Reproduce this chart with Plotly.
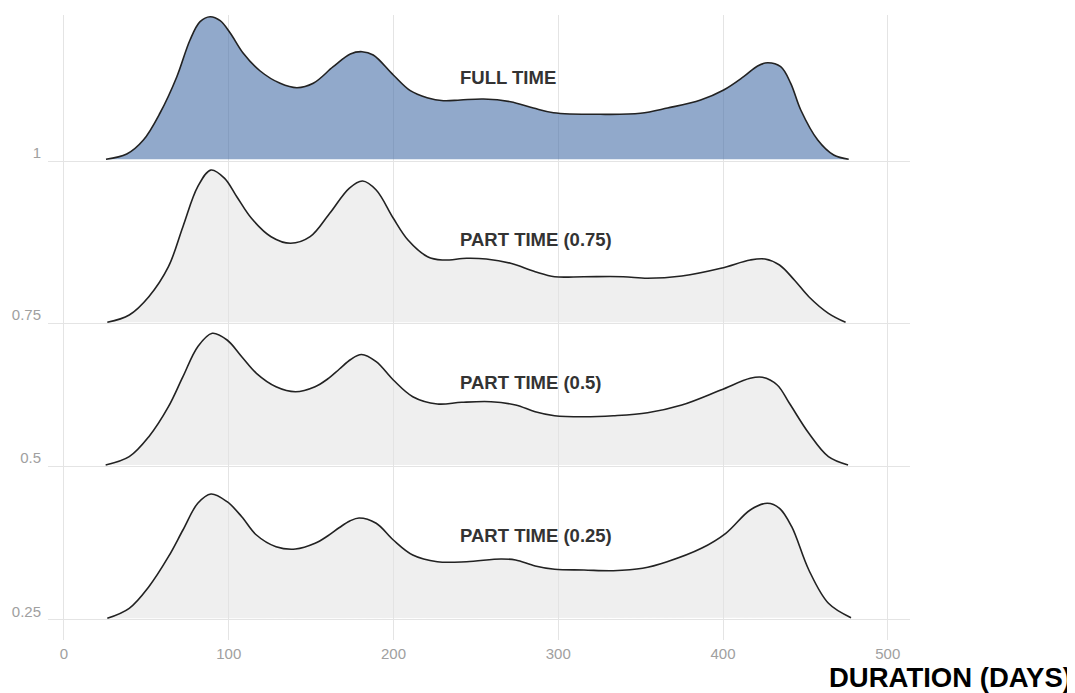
"""Ridgeline of duration (days) by working-time fraction"""

import plotly.graph_objects as go

# data: x = duration (days), y = density (scaled)
DAYS_FULL = [25.5, 38.1, 48.2, 58.3, 68.5, 76.5, 82.6, 88.7, 94.8, 100.9, 108.7, 119.1,
             131.2, 141.4, 151.3, 163.4, 173.8, 180.9, 187.7, 199.9, 210.2, 220.4, 230.3,
             240.6, 254.6, 271.0, 284.9, 297.1, 325.6, 349.9, 366.3, 386.4, 400.4, 412.5,
             421.0, 427.1, 435.0, 441.1, 447.2, 457.5, 467.2, 476.3]
DENS_FULL = [1.7, 7, 21, 48, 84.3, 121, 139.3, 144.3, 140.3, 128, 108, 90,
             77.7, 73.3, 77.7, 94.3, 107, 109.3, 106, 86, 70.3, 63.3, 60.3,
             61, 62, 59.3, 53, 48.3, 46.7, 47.7, 53, 61, 71, 84.3,
             95, 98.3, 94.3, 77.7, 51, 21, 6, 1.7]

DAYS_075 = [26.3, 39.6, 51.5, 63.4, 72.2, 81.2, 89.2, 97.5, 104.9, 113.8, 125.7, 137.5,
            149.4, 161.3, 173.1, 181.2, 189.5, 199.9, 208.8, 220.7, 229.6, 244.4, 256.3,
            271.1, 286.0, 297.8, 315.6, 339.4, 354.2, 375.0, 398.7, 416.5, 425.5, 434.3,
            443.3, 452.1, 464.0, 474.4]
DENS_075 = [0.7, 8, 26.3, 56.3, 96.3, 136.3, 153, 144.7, 126.3, 104.7, 86.3, 79.7,
            86.3, 109.7, 134.7, 142, 133, 104.7, 83, 66.3, 63, 64.7, 64,
            59.7, 51.3, 46.3, 46.3, 46.3, 44.7, 47, 54.7, 63, 64, 58,
            43, 26.3, 9.7, 0.7]

DAYS_050 = [25.3, 39.6, 51.5, 63.4, 72.2, 81.2, 90.0, 99.0, 107.9, 116.8, 128.7, 140.5,
            152.4, 160.0, 167.2, 174.0, 180.6, 189.5, 199.9, 211.7, 226.6, 241.4, 259.2,
            274.1, 286.0, 297.8, 315.6, 333.4, 354.2, 375.0, 398.7, 416.5, 423.9, 432.9,
            440.3, 452.1, 464.0, 475.9]
DENS_050 = [1, 9.3, 29.3, 59.3, 89.3, 119.3, 132.7, 126, 109.3, 92.7, 79.3, 74.3,
            79.3, 87, 97, 106.5, 111.5, 104.3, 86, 69.3, 62, 63.7, 64.3,
            61, 54.3, 50.3, 49.3, 50.3, 53.3, 61, 76, 87.7, 88.7, 81,
            62.7, 32.7, 9.3, 1]

DAYS_025 = [26.3, 39.6, 51.5, 63.4, 72.2, 81.2, 89.2, 99.0, 107.9, 116.8, 128.7, 140.5,
            152.4, 160.0, 167.2, 173.5, 179.1, 189.5, 199.9, 211.7, 226.6, 244.4, 265.2,
            274.1, 286.0, 297.8, 315.6, 333.4, 351.2, 366.1, 386.9, 401.7, 416.5, 426.9,
            434.3, 441.7, 452.1, 464.0, 477.7]
DENS_025 = [1.2, 11.2, 32.8, 62.8, 89.5, 116.2, 125.5, 117.8, 102.8, 84.5, 72.8, 70.5,
            76.2, 83.5, 92, 98.5, 101.5, 96.2, 79.5, 64.5, 57.8, 57.8, 60.5,
            59.5, 53.5, 50.2, 49.5, 48.8, 51.2, 57.8, 71.2, 86.2, 109.5, 116.2,
            111.2, 92.8, 49.5, 16.2, 1.8]

GROUP_NAMES = ["FULL TIME", "PART TIME (0.75)", "PART TIME (0.5)", "PART TIME (0.25)"]
GROUP_TICKS = ["1", "0.75", "0.5", "0.25"]
X_TICKS = [0, 100, 200, 300, 400, 500]

SERIES = [
    (DAYS_FULL, DENS_FULL),
    (DAYS_075, DENS_075),
    (DAYS_050, DENS_050),
    (DAYS_025, DENS_025),
]

# where each ridge's baseline sits on the shared y axis
RIDGE_BASE = [479, 317, 174, 20.5]
FILL_COLORS = [
    "rgba(72, 112, 168, 0.6)",
    "rgba(226, 226, 226, 0.55)",
    "rgba(226, 226, 226, 0.55)",
    "rgba(226, 226, 226, 0.55)",
]
FONT = "Liberation Sans, Arial, sans-serif"

fig = go.Figure()

for (days, dens), base, fill, name in zip(SERIES, RIDGE_BASE, FILL_COLORS, GROUP_NAMES):
    fig.add_trace(
        go.Scatter(
            x=days,
            y=[base + d for d in dens],
            mode="lines",
            fill="toself",
            fillcolor=fill,
            line=dict(color="#222222", width=1.6, shape="spline", smoothing=1.0),
            name=name,
            hoverinfo="x+name",
            showlegend=False,
        )
    )
    # ラベル
    fig.add_annotation(
        x=239.4,
        y=base + 84,
        text=name,
        showarrow=False,
        xanchor="left",
        yanchor="middle",
        font=dict(family=FONT, size=18.5, color="#333333", weight="bold"),
    )

fig.add_annotation(
    text="DURATION (DAYS)",
    xref="paper",
    yref="paper",
    x=1.19,
    y=-0.06,
    xanchor="right",
    yanchor="middle",
    showarrow=False,
    font=dict(family=FONT, size=27.5, color="#000000", weight="bold"),
)

# the page body adds an 8px offset, so the figure is 8px smaller on each side
fig.update_layout(
    width=1067,
    height=685,
    margin=dict(l=40, r=165, t=7, b=53, autoexpand=False),
    paper_bgcolor="white",
    plot_bgcolor="white",
    showlegend=False,
    font=dict(family=FONT),
)

fig.update_xaxes(
    range=[-9.7, 513.5],
    tickvals=X_TICKS,
    showgrid=True,
    gridcolor="#e4e4e4",
    gridwidth=1,
    zeroline=False,
    showline=False,
    ticks="",
    automargin=False,
    ticklabelstandoff=3,
    tickfont=dict(family=FONT, size=15, color="#a0a0a0"),
)

fig.update_yaxes(
    range=[0, 625],
    tickvals=RIDGE_BASE,
    ticktext=GROUP_TICKS,
    showgrid=True,
    gridcolor="#e4e4e4",
    gridwidth=1,
    zeroline=False,
    showline=False,
    ticks="",
    automargin=False,
    ticklabelshift=-8,
    ticklabelstandoff=6,
    tickfont=dict(family=FONT, size=15, color="#a0a0a0"),
)

fig.write_html("out.html")
